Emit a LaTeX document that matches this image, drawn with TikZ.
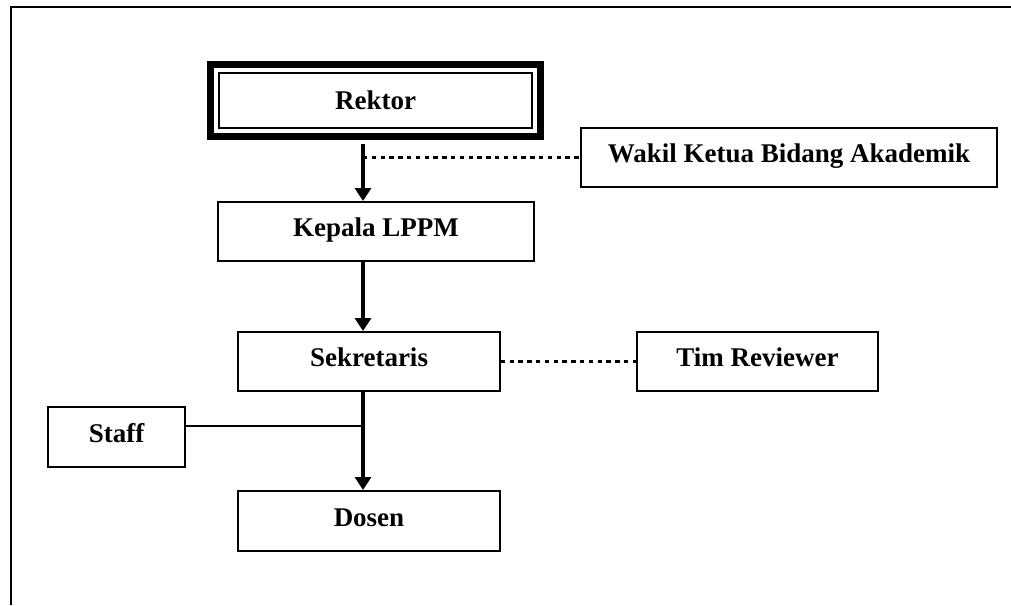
\documentclass[tikz,border=0pt]{standalone}
\usepackage{fontspec}
\setmainfont{Liberation Serif}
\usetikzlibrary{
		calc,
		positioning,
		arrows.meta
	}
\tikzset{
		>={Triangle[width=8pt,length=6.5pt]},
		box/.style={draw, line width=.8pt, font=\fontsize{13.5}{16}\selectfont\bfseries, text height=10pt, text depth=4.6pt, minimum height=29.7pt},
		link/.style={->, line width=1.6pt},
		dots/.style={line width=1.6pt, dash pattern=on 2.2pt off 2.2pt}
	}

\begin{document}
\begin{tikzpicture}[x=.5pt, y=-.5pt] % (each unit = one pixel of the page, y grows downwards)
		\useasboundingbox (0,0) rectangle (1011,605);
		\draw[line width=1pt] (11,605) -- (11,7) -- (1011,7); % the page frame
		\coordinate (spine) at (363,0);
		\coordinate (joint) at (363,426);
		\node[box, line width=.75pt, minimum width=156.5pt, minimum height=27.5pt, text depth=1.1pt] (rektor) at (375.5,100.5) {Rektor};
		\draw[line width=3.5pt] ($(rektor.north west)+(-7.5,-7.5)$) rectangle ($(rektor.south east)+(7.5,7.5)$);
		\node[box, minimum width=158pt] (kepala) at (376,231.5) {Kepala LPPM};
		\node[box, minimum width=208pt] (wakil) at (789,157.5) {Wakil Ketua Bidang Akademik};
		\node[box, minimum width=131pt] (sekretaris) at (369,361.5) {Sekretaris};
		\node[box, minimum width=120.7pt] (reviewer) at (757.5,361.5) {Tim Reviewer};
		\node[box, minimum width=68.7pt, minimum height=30.2pt] (staff) at (116.5,437) {Staff};
		\node[box, minimum width=131pt, minimum height=30.2pt] (dosen) at (369,521) {Dosen};
		% lines of command
		\draw[link] ($(rektor.south -| spine)+(0,15)$) -- (kepala.north -| spine);
		\draw[link] (kepala.south -| spine) -- (sekretaris.north -| spine);
		\draw[link] (sekretaris.south -| spine) -- (dosen.north -| spine);
		\draw[line width=.75pt] (joint -| staff.east) -- (joint);
		% lines of coordination
		\draw[dots] (wakil.west -| spine) -- (wakil.west);
		\draw[dots] (sekretaris) -- (reviewer);
\end{tikzpicture}
\end{document}
